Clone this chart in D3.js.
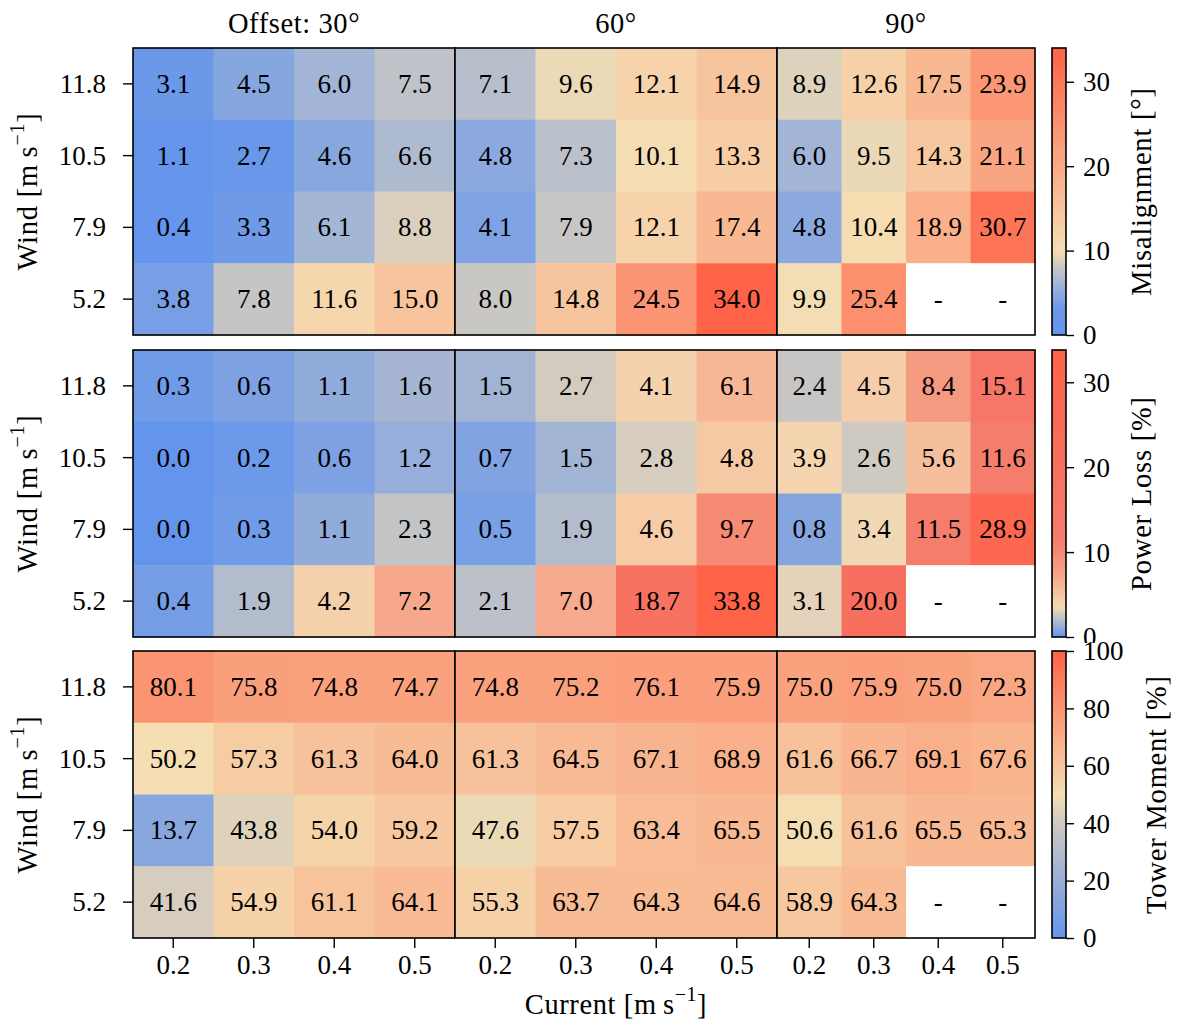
<!DOCTYPE html>
<html>
<head>
<meta charset="utf-8">
<script src="https://cdn.jsdelivr.net/npm/d3@7"></script>
<style>
  body { margin: 0; background: #fff; }
  text { font-family: "Liberation Serif", "Times New Roman", serif; fill: #000; }
</style>
</head>
<body>
<svg id="chart" width="1179" height="1023"></svg>
<script>
const winds = ["11.8", "10.5", "7.9", "5.2"];
const currents = ["0.2", "0.3", "0.4", "0.5"];
const offsets = ["Offset: 30°", "60°", "90°"];

// rows: wind 11.8 -> 5.2, columns: (30°, 60°, 90°) x current 0.2..0.5
const misalignment = [
  [3.1, 4.5, 6.0, 7.5, 7.1, 9.6, 12.1, 14.9, 8.9, 12.6, 17.5, 23.9],
  [1.1, 2.7, 4.6, 6.6, 4.8, 7.3, 10.1, 13.3, 6.0, 9.5, 14.3, 21.1],
  [0.4, 3.3, 6.1, 8.8, 4.1, 7.9, 12.1, 17.4, 4.8, 10.4, 18.9, 30.7],
  [3.8, 7.8, 11.6, 15.0, 8.0, 14.8, 24.5, 34.0, 9.9, 25.4, null, null]
];
const powerLoss = [
  [0.3, 0.6, 1.1, 1.6, 1.5, 2.7, 4.1, 6.1, 2.4, 4.5, 8.4, 15.1],
  [0.0, 0.2, 0.6, 1.2, 0.7, 1.5, 2.8, 4.8, 3.9, 2.6, 5.6, 11.6],
  [0.0, 0.3, 1.1, 2.3, 0.5, 1.9, 4.6, 9.7, 0.8, 3.4, 11.5, 28.9],
  [0.4, 1.9, 4.2, 7.2, 2.1, 7.0, 18.7, 33.8, 3.1, 20.0, null, null]
];
const towerMoment = [
  [80.1, 75.8, 74.8, 74.7, 74.8, 75.2, 76.1, 75.9, 75.0, 75.9, 75.0, 72.3],
  [50.2, 57.3, 61.3, 64.0, 61.3, 64.5, 67.1, 68.9, 61.6, 66.7, 69.1, 67.6],
  [13.7, 43.8, 54.0, 59.2, 47.6, 57.5, 63.4, 65.5, 50.6, 61.6, 65.5, 65.3],
  [41.6, 54.9, 61.1, 64.1, 55.3, 63.7, 64.3, 64.6, 58.9, 64.3, null, null]
];

const cbarTicks = [[0, 10, 20, 30], [0, 10, 20, 30], [0, 20, 40, 60, 80, 100]];
const cbarLabels = ["Misalignment [°]", "Power Loss [%]", "Tower Moment [%]"];
const cbarMax = [34.0, 33.8, 100];

const colors = [
  d3.scaleLinear()
    .domain([0, 3, 6, 7.8, 10, 34])
    .range(["#6495ed", "#6997ea", "#a2b5d6", "#c5c5c5", "#f5deb3", "#ff6347"])
    .clamp(true),
  d3.scaleLinear()
    .domain([0, 2.35, 3.5, 4.8, 7.2, 9.7, 11.5, 15.1, 20, 28.9, 33.8])
    .range(["#6495ed", "#c5c5c5", "#f4dab4", "#f5c9a4", "#f6a78c", "#f68a75",
            "#f57d6c", "#f77667", "#f7705f", "#fc6850", "#ff6347"])
    .clamp(true),
  d3.scaleLinear()
    .domain([0, 38, 50, 100])
    .range(["#6495ed", "#c8c6c3", "#f5deb3", "#ff6347"])
    .clamp(true)
];

const panels = [misalignment, powerLoss, towerMoment];

const FS = 27;     // numbers
const LFS = 28.5;  // axis labels / titles
const svg = d3.select("#chart");
const panelTops = [48, 350, 651];
const panelH = 287;
const groupX = [[133, 455], [455, 777], [777, 1035]];
const cbarX = 1052, cbarW = 14;

const defs = svg.append("defs");
// the lower colorbar covers the bottom of the "0" label above it
// (coordinates are local to the translated tick group)
defs.append("clipPath").attr("id", "cbclip")
  .append("rect").attr("x", -20).attr("y", 300).attr("width", 120).attr("height", 343);

function unitLabel(sel, name) {
  sel.append("tspan").text(name + " [m\u2009s");
  sel.append("tspan").attr("dy", -13).attr("font-size", LFS * 0.7).text("\u22121");
  sel.append("tspan").attr("dy", 13).text("]");
}

panels.forEach((data, p) => {
  const top = panelTops[p];
  const y = d3.scaleBand().domain(winds).range([top, top + panelH]);
  const color = colors[p];
  const g = svg.append("g");

  offsets.forEach((off, k) => {
    const x = d3.scaleBand().domain(currents).range(groupX[k]);
    const cells = [];
    winds.forEach((w, r) => currents.forEach((c, j) => {
      cells.push({ w, c, v: data[r][k * 4 + j] });
    }));

    g.selectAll(null).data(cells).join("rect")
      .attr("x", d => x(d.c))
      .attr("y", d => y(d.w))
      .attr("width", x.bandwidth() + 0.5)
      .attr("height", y.bandwidth() + 0.5)
      .attr("fill", d => d.v == null ? "#fff" : color(d.v));

    g.selectAll(null).data(cells).join("text")
      .attr("x", d => x(d.c) + x.bandwidth() / 2)
      .attr("y", d => y(d.w) + y.bandwidth() / 2 + FS * 0.33)
      .attr("text-anchor", "middle")
      .attr("font-size", FS)
      .text(d => d.v == null ? "-" : d.v.toFixed(1));

    g.append("rect")
      .attr("x", groupX[k][0]).attr("y", top)
      .attr("width", groupX[k][1] - groupX[k][0]).attr("height", panelH)
      .attr("fill", "none").attr("stroke", "#000").attr("stroke-width", 1.6);

    if (p === 0) {
      svg.append("text")
        .attr("x", (groupX[k][0] + groupX[k][1]) / 2)
        .attr("y", 33)
        .attr("text-anchor", "middle")
        .attr("font-size", LFS)
        .attr("letter-spacing", 0.6)
        .text(off);
    }
    if (p === 2) {
      const ax = svg.append("g")
        .attr("transform", `translate(0,${top + panelH})`)
        .call(d3.axisBottom(x).tickSize(10).tickPadding(6).tickSizeOuter(0));
      ax.select(".domain").remove();
      ax.selectAll("line").attr("stroke", "#000").attr("stroke-width", 1.4);
      ax.selectAll("text").attr("font-size", FS).attr("font-family", null).attr("dy", "0.75em");
    }
  });

  // y axis
  const ya = svg.append("g")
    .attr("transform", `translate(${groupX[0][0]},0)`)
    .call(d3.axisLeft(y).tickSize(10).tickPadding(17).tickSizeOuter(0));
  ya.select(".domain").remove();
  ya.selectAll("line").attr("stroke", "#000").attr("stroke-width", 1.4);
  ya.selectAll("text").attr("font-size", FS).attr("font-family", null).attr("dy", "0.33em");

  svg.append("text")
    .attr("transform", `translate(37,${top + panelH / 2}) rotate(-90)`)
    .attr("text-anchor", "middle")
    .attr("font-size", LFS)
    .attr("letter-spacing", 0.8)
    .call(unitLabel, "Wind");

  // colorbar
  const cs = d3.scaleLinear().domain([0, cbarMax[p]]).range([top + panelH, top]);
  const gid = "grad" + p;
  const grad = defs.append("linearGradient").attr("id", gid)
    .attr("x1", 0).attr("y1", 1).attr("x2", 0).attr("y2", 0);
  d3.range(0, 1.0001, 0.01).forEach(t => {
    grad.append("stop").attr("offset", t).attr("stop-color", color(t * cbarMax[p]));
  });
  svg.append("rect")
    .attr("x", cbarX).attr("y", top).attr("width", cbarW).attr("height", panelH)
    .attr("fill", `url(#${gid})`).attr("stroke", "#000").attr("stroke-width", 1.6);
  const ca = svg.append("g")
    .attr("transform", `translate(${cbarX + cbarW},0)`)
    .call(d3.axisRight(cs).tickValues(cbarTicks[p]).tickSize(8).tickPadding(9).tickSizeOuter(0));
  ca.select(".domain").remove();
  ca.selectAll("line").attr("stroke", "#000").attr("stroke-width", 1.4);
  ca.selectAll("text").attr("font-size", FS).attr("font-family", null).attr("dy", "0.33em");
  if (p === 1) ca.attr("clip-path", "url(#cbclip)");

  svg.append("text")
    .attr("transform", `translate(${p === 2 ? 1166 : 1151},${top + panelH / 2}) rotate(-90)`)
    .attr("text-anchor", "middle")
    .attr("font-size", LFS)
    .attr("letter-spacing", 0.8)
    .text(cbarLabels[p]);
});

svg.append("text")
  .attr("x", (groupX[1][0] + groupX[1][1]) / 2)
  .attr("y", 1014)
  .attr("text-anchor", "middle")
  .attr("font-size", LFS)
  .attr("letter-spacing", 0.6)
  .call(unitLabel, "Current");
</script>
</body>
</html>
